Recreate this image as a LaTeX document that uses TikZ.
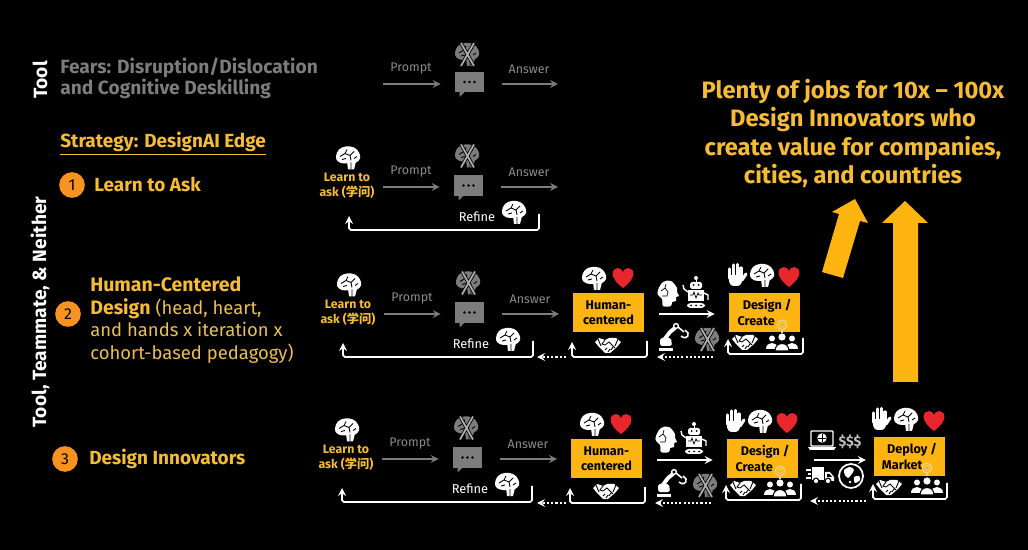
\documentclass[tikz,border=0pt]{standalone}
\usepackage{fontspec}
\setmainfont{Fira Sans}
\newfontfamily\cjk{Noto Sans CJK SC}
\usepackage{tikz}
\usetikzlibrary{calc}
\definecolor{boxyellow}{HTML}{FFB511}
\definecolor{headyellow}{HTML}{F6BC35}
\definecolor{softyellow}{HTML}{E8BE58}
\definecolor{dotorange}{HTML}{F7931E}
\definecolor{icongrey}{HTML}{7C7C7C}
\definecolor{labelgrey}{HTML}{8A8A8A}
\definecolor{heartred}{HTML}{E8262C}
\newcommand{\fsz}[2]{\fontsize{#1}{#2}\selectfont}
\tikzset{
  sidetext/.style={anchor=west,align=left,inner sep=0pt,text=headyellow},
  steptag/.style={circle,fill=dotorange,minimum size=14.6pt,inner sep=0pt,text=black,font=\fsz{9}{10}},
  sidelabel/.style={rotate=90,text=white,inner sep=0pt,font=\fsz{10.9}{12}\bfseries},
  smalllabel/.style={inner sep=0pt,text=labelgrey,font=\fsz{7.1}{8}},
  learnlabel/.style={inner sep=0pt,align=center,text=headyellow,font=\fsz{7}{8.6}\bfseries},
  refinelabel/.style={inner sep=0pt,text=white,font=\fsz{7.3}{8}},
  stagebox/.style={fill=boxyellow,minimum width=40.3pt,minimum height=22pt,inner sep=0pt,align=left,text=black,font=\fsz{7.2}{8.7}\bfseries},
  chatbox/.style={fill=icongrey,minimum width=16.4pt,minimum height=11.6pt,inner sep=0pt},
  greyarrow/.style={->,icongrey,line width=1pt},
  whitearrow/.style={->,white,line width=1pt},
  dotarrow/.style={->,white,line width=1pt,dash pattern=on 1.2pt off 1.2pt},
  looparrow/.style={->,white,line width=1pt,rounded corners=1pt},
  bigarrow/.style={fill=boxyellow},
  pics/brainicon/.style={code={
    \fill plot[smooth cycle,tension=.7] coordinates {(-12,-1)(-9,-8)(-2,-11)(6,-10)(11,-5)(12,1)(8,5)(2,6)(-4,6)(-10,4)};
    \fill (-1,4) -- (8,4) -- (6,12) -- (0,12) -- cycle;
    \draw[black,line width=.5pt] (-8,-1) -- (-3,-4) -- (-1,-8) (-3,-4) -- (2,-2) -- (6,-6) (2,-2) -- (3,3) (-6,2) -- (-2,1) (6,1) -- (9,-1) (3,5) -- (3,12);
  }},
  pics/nobrain/.style={code={
    \pic {brainicon};
    \draw[black,line width=1.9pt] (-6,-11) -- (7,12) (7,-11) -- (-6,12);
    \draw[lightgray!75!icongrey,line width=1pt] (-6,-11) -- (7,12) (7,-11) -- (-6,12);
  }},
  pics/chatbits/.style={code={
    \fill (-10,9) -- (-10,15) -- (-4,9) -- cycle;
    \foreach \dx in {-5,0,5} \fill[black] (\dx,0) circle (1.4);
  }},
  pics/hearticon/.style={code={
    \fill[heartred] (0,10) .. controls (-15,-1) and (-11,-10) .. (-5,-10) .. controls (-2,-10) and (0,-7) .. (0,-6) .. controls (0,-7) and (2,-10) .. (5,-10) .. controls (11,-10) and (15,-1) .. (0,10) -- cycle;
  }},
  pics/handicon/.style={code={
    \fill[rounded corners=2] (-8,0) -- (-6,11) -- (5,11) -- (7,0) -- cycle;
    \foreach \fx/\ft in {-6.3/-6,-2.4/-10,1.4/-10.5,5/-7} \draw[line width=1.8pt,line cap=round] (\fx,3) -- (\fx,\ft);
    \draw[line width=1.8pt,line cap=round] (6,5) -- (10,-1);
  }},
  pics/shakeicon/.style={code={
    \fill (-13,-3) -- (-9,-7) -- (-3,-5) -- (1,-7) -- (8,-7) -- (13,-3) -- (9,2) -- (2,8) -- (-3,8) -- (-9,2) -- cycle;
    \draw[black,line width=.5pt] (-3,-5) -- (-6,-1) -- (-3,0) -- (1,-3) -- (7,3) (-3,5) -- (-1,3) (0,7) -- (2,4) (3,5) -- (5,2) (-10,-6) -- (-7,1) (10,-6) -- (7,1);
  }},
  pics/teamicon/.style={code={
    \foreach \px in {-10,10} {
      \fill (\px,-3.5) circle (3);
      \fill (\px-6,7) .. controls (\px-6,-1) and (\px+6,-1) .. (\px+6,7) -- cycle;
    }
    \fill (0,-5) circle (3.6);
    \draw[black,line width=.6pt,fill=white] (-7,9) .. controls (-7,-1) and (7,-1) .. (7,9) -- cycle;
  }},
  pics/bulbicon/.style={code={
    \draw[line width=.7pt,fill=boxyellow] (0,-1) circle (4.8);
    \draw[line width=.4pt] (0,-1) circle (2.4);
    \draw[line width=.7pt] (0,4) -- (0,7);
  }},
  pics/headicon/.style={code={
    \fill plot[smooth cycle,tension=.6] coordinates {(-10,-3)(-5,-11)(3,-12)(9,-5)(9,-1)(11,3)(8,4)(8,8)(4,9)(3,13)(-5,13)(-6,6)(-10,2)};
    \draw[black,line width=.4pt] (-7,-2) -- (-3,-5) -- (-2,-9) (-3,-5) -- (0,-1) (-6,3) -- (-1,3) -- (0,-1);
  }},
  pics/roboticon/.style={code={
    \fill (0,-14) circle (2);
    \fill (-.5,-13) rectangle (.5,-10);
    \fill[rounded corners=1] (-6,-10) rectangle (6,-3);
    \fill[black] (-2.5,-7) circle (1) (2.5,-7) circle (1);
    \fill (-8,-2) rectangle (8,9);
    \draw[black,line width=.4pt] (-6,3) -- (-3,3) -- (-2,0) -- (0,6) -- (2,1) -- (3,3) -- (6,3);
    \draw[line width=.8pt] (-8,0) -- (-12,-3) -- (-13,-7) (8,1) -- (12,3) -- (12,8);
    \fill[rounded corners=2] (-9,11) rectangle (9,16);
    \foreach \wx in {-5,0,5} \fill[black] (\wx,13.5) circle (1);
  }},
  pics/armicon/.style={code={
    \fill (-13,11) rectangle (1,14);
    \fill[rounded corners=1] (-12,1) -- (-1,1) -- (0,9) -- (-12,9) -- cycle;
    \draw[line width=2.2pt] (-8,3) -- (-2,-5) -- (3,-9);
    \draw[line width=.8pt,fill=black] (4,-11) circle (2.4);
    \draw[line width=.9pt] (6,-10) -- (12,-5);
    \draw[line width=.9pt] (9,-1) .. controls (12,2) and (17,1) .. (16,-4) -- (13,-7);
  }},
  pics/laptopicon/.style={code={
    \draw[line width=.8pt,rounded corners=.5] (-11,-9) rectangle (11,6);
    \draw[line width=.5pt,fill=white] (0,-2) circle (4.2);
    \draw[black,line width=.3pt] (-4,-2) -- (4,-2) (0,-6) -- (0,2);
    \fill (-14,7) -- (14,7) -- (12,10) -- (-12,10) -- cycle;
  }},
  pics/truckicon/.style={code={
    \fill (-8,-8) rectangle (4,5);
    \fill (5,-3) -- (10,-3) -- (14,2) -- (14,6) -- (5,6) -- cycle;
    \fill[black] (7,-1) -- (9.5,-1) -- (12,2) -- (7,2) -- cycle;
    \draw[line width=.7pt] (-14,-5) -- (-9,-5) (-12,-1) -- (-9,-1) (-14,3) -- (-9,3);
    \foreach \wx in {-4,8} \draw[black,line width=.6pt,fill=white] (\wx,6) circle (2.8);
  }},
  pics/globeicon/.style={code={
    \draw[line width=1pt] (0,0) circle (12);
    \fill plot[smooth cycle] coordinates {(-7,-6)(-1,-9)(3,-6)(0,-1)(-3,2)(-6,-1)};
    \fill plot[smooth cycle] coordinates {(3,1)(8,0)(9,4)(4,7)};
    \fill (-1,6) circle (1.4);
  }}
}

\begin{document}
\begin{tikzpicture}[x=0.02cm,y=-0.02cm,>=stealth]
\useasboundingbox (0,0) rectangle (1028,550);
\fill[black] (0,0) rectangle (1028,550);
% left column
\node[sidelabel] (toollabel) at (40,80) {Tool};
\node[sidelabel] (mixlabel) at (40,312) {Tool, Teammate, \& Neither};
\node[sidetext,text=icongrey,font=\fsz{10.9}{12}\bfseries] (fears) at (60,78.5) {Fears: Disruption/Dislocation\\and Cognitive Deskilling};
\node[sidetext,font=\fsz{10.8}{12}\bfseries] (strategy) at (60,141.5) {Strategy: DesignAI Edge};
\draw[headyellow,line width=.7pt] ([yshift=-1.5pt]strategy.south west) -- ([yshift=-1.5pt]strategy.south east);
\node[steptag] (tag1) at (72,185) {1};
\node[sidetext,font=\fsz{10.8}{12}\bfseries] (ask) at (94,184) {Learn to Ask};
\node[steptag] (tag2) at (68,314) {2};
\node[sidetext,text=softyellow,font=\fsz{10.5}{13}] (human) at (90,320) {\textbf{\textcolor{headyellow}{\fsz{11.1}{13}Human-Centered}}\\\textbf{\textcolor{headyellow}{\fsz{11.1}{13}Design}} (head, heart,\\and hands x iteration x\\cohort-based pedagogy)};
\node[steptag] (tag3) at (65,459) {3};
\node[sidetext,font=\fsz{10.8}{12}\bfseries] (innov) at (89,458.5) {Design Innovators};
% headline and big arrows
\node[inner sep=0pt,align=center,text=headyellow,font=\fsz{13.5}{16.2}\bfseries] (plenty) at (853,133.5) {Plenty of jobs for 10x -- 100x\\Design Innovators who\\create value for companies,\\cities, and countries};
\fill[bigarrow] (893,382) -- (893,223) -- (882,223) -- (905,201) -- (928,223) -- (918,223) -- (918,382) -- cycle;
\fill[bigarrow] (822,272) -- (839,214) -- (832,212) -- (855,199) -- (868,223) -- (860,221) -- (843,278) -- cycle;
% tool row
\pic[icongrey] at (467,54) {nobrain};
\node[chatbox] (chat0) at (469.5,82) {};
\pic[icongrey] at (chat0) {chatbits};
\coordinate (pstart0) at (383,84);
\coordinate (aend0) at (558,84);
\draw[greyarrow,shorten >=8pt] (pstart0) -- (chat0.west |- pstart0);
\draw[greyarrow,shorten <=10pt] (chat0.east |- aend0) -- (aend0);
\node[smalllabel] (prompt0) at (411,69) {Prompt};
\node[smalllabel] (answer0) at (529,69) {Answer};
% prompt rows
\foreach \r/\ry/\rx/\lx in {1/187/0/0,2/314/1/-7,3/459/-1/-6} {
\begin{scope}[shift={(\rx,\ry)}]
\pic[white] at (348,-29.5) {brainicon};
\node[learnlabel] (learn\r) at (347,-1) {Learn to\\ask ({\cjk 学问})};
\pic[icongrey] at (467,-31.5) {nobrain};
\node[chatbox] (chat\r) at (468.5,-1.5) {};
\pic[icongrey] at (chat\r) {chatbits};
\coordinate (pstart\r) at (383,0);
\coordinate (aend\r) at (558,0);
\draw[greyarrow,shorten >=8pt] (pstart\r) -- (chat\r.west |- pstart\r);
\draw[greyarrow,shorten <=10pt] (chat\r.east |- aend\r) -- (aend\r);
\node[smalllabel] (prompt\r) at (411,-15) {Prompt};
\node[smalllabel] (answer\r) at (529,-15) {Answer};
\node[refinelabel] (refine\r) at (477+\lx,30) {Refine};
\pic[white] at (514+\lx,25) {brainicon};
\coordinate (lstart\r) at (539+\lx,27);
\coordinate (lend\r) at (349+\lx,29);
\draw[looparrow] (lstart\r) -- (539+\lx,43) -| (lend\r);
\end{scope}
}
% stages of rows 2 and 3
\foreach \r/\ry/\hx in {2/0/0,3/146/-2} {
\begin{scope}[shift={(\hx,\ry)}]
\coordinate (gapa\r) at (566-\hx,357);
\coordinate (gapb\r) at (537-\hx,357);
\draw[dotarrow] (gapa\r) -- (gapb\r);
\node[stagebox,align=center] (hc\r) at (608.5,312.5) {Human-\\centered};
\pic[white] at (594,278) {brainicon};
\pic at (623,278) {hearticon};
\pic[white] at (608,345) {shakeicon};
\coordinate (hstart\r) at (647,341);
\coordinate (hend\r) at (572,342);
\draw[looparrow] (hstart\r) -- (647,357) -| (hend\r);
\pic[white] at (668,293) {headicon};
\pic[white] at (696,292) {roboticon};
\node[stagebox] (dc\r) at (764.5,312.5) {\hspace{3pt}Design /\\Create};
\draw[whitearrow,shorten <=8.5pt,shorten >=8pt] (hc\r.east) ++(0,1.5) coordinate (hout\r) -- (dc\r.west |- hout\r);
\pic[white] at (672,337) {armicon};
\pic[icongrey] at (707,339) {nobrain};
\coordinate (dota\r) at (713,357);
\coordinate (dotb\r) at (657,357);
\draw[dotarrow] (dota\r) -- (dotb\r);
\pic[white] at (736,275) {handicon};
\pic[white] at (762,275) {brainicon};
\pic at (789,277) {hearticon};
\pic[white] at (745,342) {shakeicon};
\pic[white] at (782,342) {teamicon};
\pic[softyellow!70!white] at (782,326) {bulbicon};
\coordinate (dstart\r) at (803,338);
\coordinate (dend\r) at (728,339);
\draw[looparrow] (dstart\r) -- (803,354) -| (dend\r);
\end{scope}
}
% last stage
\pic[white] at (880,419) {handicon};
\pic[white] at (906,419) {brainicon};
\pic at (934,421) {hearticon};
\node[stagebox] (dm) at (909.5,456.5) {\hspace{3pt}Deploy /\\Market};
\pic[white] at (889,487) {shakeicon};
\pic[white] at (927,486) {teamicon};
\pic[softyellow!70!white] at (927,469) {bulbicon};
\coordinate (mstart) at (947,483);
\coordinate (mend) at (873,484);
\draw[looparrow] (mstart) -- (947,499) -| (mend);
\pic[white] at (822,440) {laptopicon};
\node[smalllabel,text=lightgray,font=\fsz{8}{9}\bfseries] (money) at (850,442) {\$\$\$};
\draw[whitearrow,shorten <=9pt,shorten >=4.5pt] (dc3.east) ++(0,1.5) coordinate (dout) -- (dm.west |- dout);
\pic[white] at (820,475) {truckicon};
\pic[white] at (851,476) {globeicon};
\coordinate (mdota) at (866,501);
\coordinate (mdotb) at (810,501);
\draw[dotarrow] (mdota) -- (mdotb);
\end{tikzpicture}
\end{document}
